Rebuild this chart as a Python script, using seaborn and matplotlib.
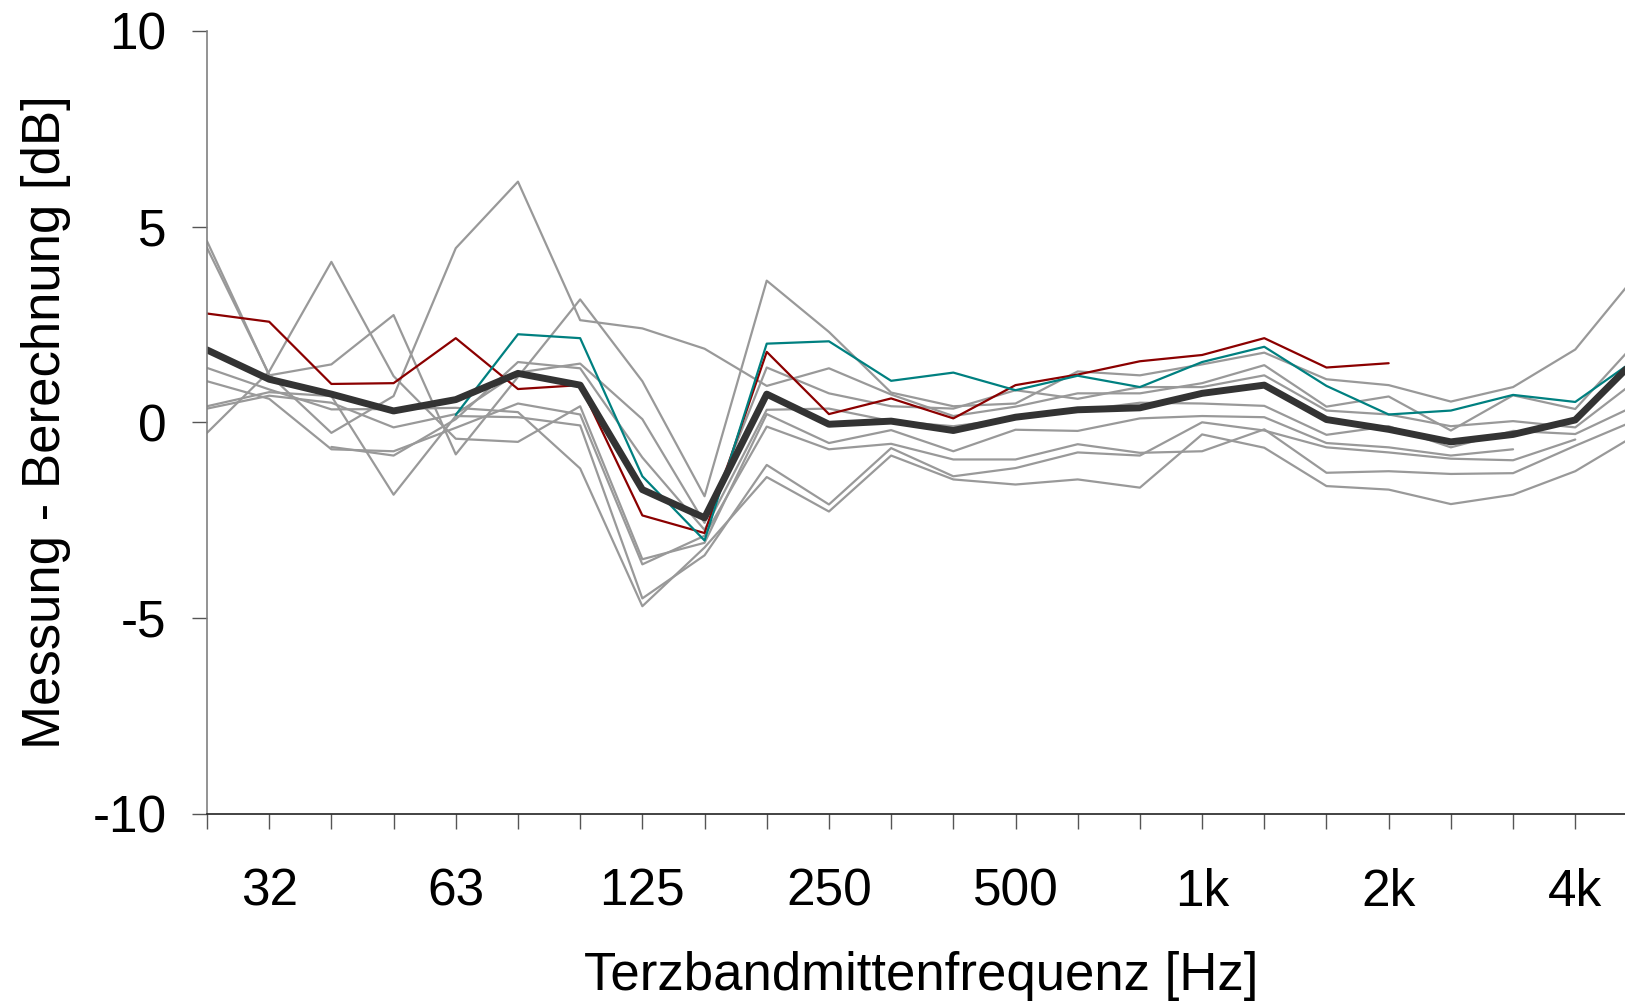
import numpy as np
import matplotlib
matplotlib.use("Agg")
import matplotlib.pyplot as plt
import seaborn as sns

sns.set_style("white")
plt.rcParams['font.family'] = ['Liberation Sans', 'DejaVu Sans']
plt.rcParams['axes.unicode_minus'] = False

# Terzbaender 25 Hz ... 5 kHz (Index 0..23)
bands = ["25", "32", "40", "50", "63", "80", "100", "125", "160", "200", "250", "315",
         "400", "500", "630", "800", "1k", "1.25k", "1.6k", "2k", "2.5k", "3.15k", "4k", "5k"]
tick_labels = ["", "32", "", "", "63", "", "", "125", "", "", "250", "", "",
               "500", "", "", "1k", "", "", "2k", "", "", "4k", ""]
nan = np.nan

# Einzelmessungen (grau)
grau_1 = [4.63, 1.20, 1.48, 2.74, -0.82, 1.16, 3.14, 1.05, -1.89, 3.62, 2.31, 0.76,
          0.41, 0.48, 1.30, 1.20, 1.48, 1.78, 1.10, 0.95, 0.53, 0.90, 1.86, 3.80]
grau_2 = [4.46, 1.22, -0.27, 0.67, 4.45, 6.15, 2.61, 2.40, 1.88, 0.93, 1.38, 0.71,
          0.16, 0.40, 0.74, 0.74, 1.00, 1.46, 0.40, 0.66, -0.21, 0.69, 0.34, 2.08]
grau_3 = [-0.27, 1.30, 4.10, 1.18, -0.42, -0.50, 0.41, -3.50, -3.08, 0.21, -0.53, -0.20,
          -0.74, -0.19, -0.22, 0.10, 0.16, 0.13, -0.53, -0.64, -0.85, -0.69, nan, nan]
grau_4 = [0.41, 0.77, 0.67, -1.85, 0.16, 0.13, -0.08, -4.50, -3.40, -1.09, -2.10, -0.66,
          -1.38, -1.17, -0.77, -0.85, 0.00, -0.21, -0.64, -0.77, -0.93, -0.97, -0.44, nan]
grau_5 = [1.39, 0.84, 0.33, 0.34, 0.37, 0.26, -1.18, -4.70, -3.20, -1.40, -2.28, -0.85,
          -1.46, -1.59, -1.46, -1.67, -0.31, -0.65, -1.63, -1.72, -2.09, -1.85, -1.25, -0.30]
grau_6 = [1.05, 0.60, -0.69, -0.74, -0.14, 0.48, 0.20, -3.63, -2.90, -0.11, -0.69, -0.55,
          -0.95, -0.95, -0.56, -0.78, -0.74, -0.18, -1.29, -1.25, -1.32, -1.30, -0.60, 0.07]
grau_7 = [0.35, 0.68, 0.50, -0.13, 0.21, 1.27, 1.50, 0.08, -2.57, 1.40, 0.74, 0.41,
          0.35, 0.82, 0.60, 0.90, 0.90, 1.20, 0.30, 0.20, -0.10, 0.03, -0.13, 1.09]
grau_8 = [nan, nan, -0.63, -0.85, 0.08, 1.54, 1.38, -0.90, -2.75, 0.32, 0.35, 0.03,
          -0.10, 0.10, 0.30, 0.50, 0.48, 0.42, -0.32, -0.10, -0.64, -0.22, -0.30, 0.45]
grau = [grau_1, grau_2, grau_3, grau_4, grau_5, grau_6, grau_7, grau_8]

# hervorgehobene Messungen
rot = [2.78, 2.57, 0.98, 1.00, 2.15, 0.85, 0.95, -2.38, -2.83, 1.80, 0.21, 0.61,
       0.10, 0.95, 1.22, 1.56, 1.72, 2.15, 1.40, 1.51, nan, nan, nan, nan]
tuerkis = [nan, nan, nan, nan, 0.19, 2.25, 2.15, -1.38, -3.02, 2.01, 2.07, 1.06,
           1.27, 0.82, 1.19, 0.90, 1.54, 1.93, 0.93, 0.20, 0.30, 0.70, 0.52, 1.64]

# Mittelwert
mittel = [1.85, 1.10, 0.72, 0.29, 0.58, 1.25, 0.95, -1.72, -2.44, 0.72, -0.05, 0.03,
          -0.21, 0.13, 0.32, 0.37, 0.74, 0.95, 0.07, -0.18, -0.50, -0.31, 0.06, 1.65]

x = np.arange(len(bands))

fig = plt.figure(figsize=(16.25, 10.02), dpi=100)
ax = fig.add_axes([207 / 1625, 1 - 813.6 / 1002, (1625 - 207) / 1625, (813.6 - 31) / 1002])

for g in grau:
    sns.lineplot(x=x, y=g, color="#999999", lw=1.6, ax=ax, estimator=None)
sns.lineplot(x=x, y=rot, color="#8b0000", lw=1.6, ax=ax, estimator=None)
sns.lineplot(x=x, y=tuerkis, color="#008080", lw=1.6, ax=ax, estimator=None)
sns.lineplot(x=x, y=mittel, color="#333333", lw=5, ax=ax, estimator=None)

ax.set_yticks([-10, -5, 0, 5, 10])
ax.set_yticklabels(["-10", "-5", "0", "5", "10"])
ax.set_xticks(x)
ax.set_xticklabels(tick_labels)
# Grenzen erst nach den Ticks setzen (set_xticks erweitert sonst die Achse)
ax.set_xlim(0, 22.8)
ax.set_ylim(-10, 10)

sns.despine(ax=ax)
ax.spines['left'].set_color("#808080")
ax.spines['bottom'].set_color("#222222")
ax.spines['left'].set_linewidth(1.2)
ax.spines['bottom'].set_linewidth(1.2)
ax.tick_params(axis='y', left=True, length=11, width=1, color="#555555", pad=18,
               labelsize=37, labelcolor="black")
ax.tick_params(axis='x', bottom=True, length=11, width=1, color="#555555", pad=28,
               labelsize=37, labelcolor="black")

ax.set_xlabel("Terzbandmittenfrequenz [Hz]", fontsize=38, color="black")
ax.set_ylabel("Messung - Berechnung [dB]", fontsize=38, color="black")
ax.xaxis.set_label_coords(0.504, -0.175)
ax.yaxis.set_label_coords(-0.096, 0.5)

fig.savefig("out.png", dpi=100)
